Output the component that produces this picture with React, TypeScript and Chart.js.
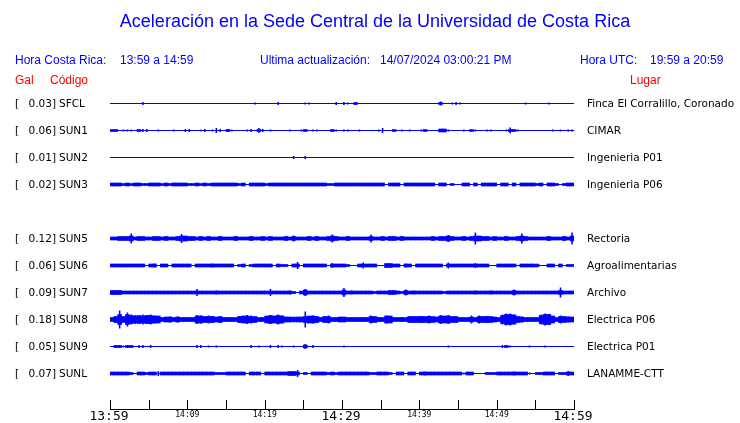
import { useEffect, useRef } from 'react';
import { Chart, registerables } from 'chart.js';

Chart.register(...registerables);

const TITLE = 'Aceleración en la Sede Central de la Universidad de Costa Rica';
const HORA_CR_LABEL = 'Hora Costa Rica:';
const HORA_CR = '13:59 a 14:59';
const UPDATED_LABEL = 'Ultima actualización:';
const UPDATED = '14/07/2024 03:00:21 PM';
const HORA_UTC_LABEL = 'Hora UTC:';
const HORA_UTC = '19:59 a 20:59';
const COL_GAL = 'Gal';
const COL_CODE = 'Código';
const COL_PLACE = 'Lugar';

// Station rows (empty row = unused slot)
const CODES = ['SFCL', 'SUN1', 'SUN2', 'SUN3', '', 'SUN5', 'SUN6', 'SUN7', 'SUN8', 'SUN9', 'SUNL'];
const GAL = ['0.03', '0.06', '0.01', '0.02', '', '0.12', '0.06', '0.09', '0.18', '0.05', '0.07'];
const PLACES = [
  'Finca El Corralillo, Coronado', 'CIMAR', 'Ingenieria P01', 'Ingenieria P06', '',
  'Rectoria', 'Agroalimentarias', 'Archivo', 'Electrica P06', 'Electrica P01', 'LANAMME-CTT',
];

// time axis (minutes from 13:59)
const SPAN_MINUTES = 60;
const BIN_MINUTES = 0.5;
const TICK_MINUTES = [0, 5, 10, 15, 20, 25, 30, 35, 40, 45, 50, 55, 60];
const LABEL_MINUTES = [0, 10, 20, 30, 40, 50, 60];
const TIME_LABELS = ['13:59', '14:09', '14:19', '14:29', '14:39', '14:49', '14:59'];
const MAJOR_LABELS = ['13:59', '14:29', '14:59'];

// Envelopes: one char per 30 s bin (base-36, half-amplitude units)
const SFCL_BAND = '0000000000 0000000000 0000000000 0000000000 0000000000 0000000000 0002000000 0000000000 0000020000 0000000000 0000000000 0000000000';
const SFCL_SPIKE = '0000000030 0000000000 0000000000 0000000200 0003000000 2200000030 3202000000 0000000000 0000040023 2000000000 0000000200 0002000000';
const SUN1_BAND = '2200000200 0000000000 0000000000 2000000020 0000000000 2000000200 0000000000 0002000000 0200033000 0002000000 0002200000 0000000000';
const SUN1_SPIKE = '0002220033 0020002003 3002302530 3200023053 0200002002 2022000020 2200200002 5000020200 2000000200 0200200220 0026020000 0000202022';
const SUN2_BAND = '0000000000 0000000000 0000000000 0000000000 0000000000 0000000000 0000000000 0000000000 0000000000 0000000000 0000000000 0000000000';
const SUN2_SPIKE = '0000000000 0000000000 0000000000 0000000000 0000000300 3000000000 0000000000 0000000000 0000000000 0000000000 0000000000 0000000000';
const SUN3_BAND = '3332323322 3332323333 2232323333 3332303333 2333333333 3333332233 3333333333 3033303333 3333033020 0330303333 0330303333 2303320233';
const SUN3_SPIKE = '0000000000 0000000000 0000000000 0000000000 0000000000 0000000000 0000000000 0000000000 0000000000 0000000000 0000000000 0000000000';
const SUN5_BAND = '3344453443 3443433455 4434343343 3343334334 3433343433 3434334543 3433333433 4344343333 3334344543 3434554434 3343345433 3334333435';
const SUN5_SPIKE = '00000a0000 0000000090 0000000000 0000000000 0000000600 0000000800 0000000800 0000000000 0000000700 0000c00000 000000a000 000000000c';
const SUN6_BAND = '3333333330 3303303333 3033333333 3302302333 3303220330 3333330333 3200333330 0443303303 3333330333 3333333300 3333303333 2003303022';
const SUN6_SPIKE = '0000000000 0400000000 0000004000 0000000000 0000000070 0000000500 0000060000 0000004000 0000000600 0000500000 0000000000 4000000000';
const SUN7_BAND = '4443333333 3333333333 3333333333 3333333333 3333333203 5333333333 5333333323 3344324333 3333332333 3333333333 3333433333 3333334333';
const SUN7_SPIKE = '0440000003 3000303000 0070000400 3303003000 0700004000 7030303000 9040300300 3000006040 3000300003 0000400040 0000600000 030000a003';
const SUN8_BAND = '46a6a87878 8774554544 4477666564 4446776644 7878755455 6776466445 5444444664 4774444666 6666577766 4445466665 48aa965444 48aa746655';
const SUN8_SPIKE = '06i0ea90a9 a800060600 0098087000 0007098000 090a800600 g080008000 0000000805 0800050600 7080090900 0008080700 0acca06000 0acb008060';
const SUN9_BAND = '0220220000 0000000000 0000000000 0000000000 0000000000 3000000000 0000000000 0000000000 0000000000 0000000000 0020000000 0000000000';
const SUN9_SPIKE = '0332300330 3000000000 0033020200 0000003020 0303200200 5030000000 2000000000 0000000000 0000000200 0000000000 0332000020 0020000000';
const SUNL_BAND = '3333320332 3303333333 3333333222 3333303330 3333334430 2033332323 3333333223 3320330330 3333333333 3033000222 3333333300 2233302233';
const SUNL_SPIKE = '0000000000 0050000000 0000000000 0000000000 0000000070 0000000000 0000000000 0000000000 0400000000 0200000000 0000400020 0000000050';

const BANDS = [SFCL_BAND, SUN1_BAND, SUN2_BAND, SUN3_BAND, '', SUN5_BAND, SUN6_BAND, SUN7_BAND, SUN8_BAND, SUN9_BAND, SUNL_BAND];
const SPIKES = [SFCL_SPIKE, SUN1_SPIKE, SUN2_SPIKE, SUN3_SPIKE, '', SUN5_SPIKE, SUN6_SPIKE, SUN7_SPIKE, SUN8_SPIKE, SUN9_SPIKE, SUNL_SPIKE];

const UNITS_PER_ROW = 54;
const BLUE = '#0000ff';
const RED = '#ff0000';

const parseEnv = (s: string) => s.replace(/\s/g, '').split('').map((c) => parseInt(c, 36));

const toBars = (s: string, row: number) =>
  parseEnv(s)
    .map((v, i) => ({ v, i }))
    .filter((d) => d.v > 0)
    .map((d) => ({
      x: (d.i + 0.5) * BIN_MINUTES,
      y: [row - d.v / UNITS_PER_ROW, row + d.v / UNITS_PER_ROW],
    }));

const textPlugin = {
  id: 'seismoText',
  afterDraw(chart: any) {
    const ctx = chart.ctx;
    const xs = chart.scales.x;
    const ys = chart.scales.y;
    ctx.save();
    ctx.textBaseline = 'middle';

    ctx.fillStyle = BLUE;
    ctx.textAlign = 'center';
    ctx.font = "18px 'Liberation Sans'";
    ctx.fillText(TITLE, chart.width / 2 + 5, 22);

    ctx.textAlign = 'left';
    ctx.font = "12px 'Liberation Sans'";
    ctx.fillText(HORA_CR_LABEL, 15, 61);
    ctx.fillText(HORA_CR, 120, 61);
    ctx.fillText(UPDATED_LABEL, 260, 61);
    ctx.fillText(UPDATED, 380, 61);
    ctx.fillText(HORA_UTC_LABEL, 580, 61);
    ctx.fillText(HORA_UTC, 650, 61);

    ctx.fillStyle = RED;
    ctx.fillText(COL_GAL, 15, 81);
    ctx.fillText(COL_CODE, 50, 81);
    ctx.fillText(COL_PLACE, 630, 81);

    ctx.fillStyle = '#000000';
    ctx.font = "10.5px 'DejaVu Sans'";
    CODES.forEach((code, r) => {
      if (!code) return;
      const y = ys.getPixelForValue(r) + 1;
      ctx.textAlign = 'left';
      ctx.fillText('[', 15, y);
      ctx.textAlign = 'right';
      ctx.fillText(GAL[r] + ']', 56, y);
      ctx.textAlign = 'left';
      ctx.fillText(code, 59, y);
      ctx.fillText(PLACES[r], 587, y);
    });

    // time axis
    const axisY = 409.5;
    ctx.strokeStyle = '#000000';
    ctx.lineWidth = 1;
    ctx.beginPath();
    ctx.moveTo(Math.round(xs.getPixelForValue(0)), axisY);
    ctx.lineTo(Math.round(xs.getPixelForValue(SPAN_MINUTES)) + 1, axisY);
    TICK_MINUTES.forEach((m) => {
      const px = Math.round(xs.getPixelForValue(m)) + 0.5;
      ctx.moveTo(px, 400);
      ctx.lineTo(px, axisY);
    });
    ctx.stroke();

    ctx.textAlign = 'center';
    LABEL_MINUTES.forEach((m, i) => {
      const lbl = TIME_LABELS[i];
      const px = xs.getPixelForValue(m);
      if (MAJOR_LABELS.includes(lbl)) {
        ctx.font = "13px 'DejaVu Sans Mono'";
        ctx.fillText(lbl, px - 1, 417);
      } else {
        ctx.font = "8px 'DejaVu Sans Mono'";
        ctx.fillText(lbl, px, 414.5);
      }
    });
    ctx.restore();
  },
};

export default function App() {
  const ref = useRef<HTMLCanvasElement | null>(null);

  useEffect(() => {
    if (!ref.current) return;
    const datasets: any[] = [];
    CODES.forEach((code, r) => {
      if (!code) return;
      datasets.push({
        type: 'line',
        data: [{ x: 0, y: r }, { x: SPAN_MINUTES, y: r }],
        borderColor: BLUE,
        borderWidth: 1,
        pointRadius: 0,
      });
      datasets.push({
        type: 'bar',
        data: toBars(BANDS[r], r),
        backgroundColor: BLUE,
        borderWidth: 0,
        grouped: false,
        barPercentage: 1,
        categoryPercentage: 1,
      });
      datasets.push({
        type: 'bar',
        data: toBars(SPIKES[r], r),
        backgroundColor: BLUE,
        borderWidth: 0,
        grouped: false,
        barPercentage: 0.4,
        categoryPercentage: 1,
      });
    });

    const chart = new Chart(ref.current, {
      type: 'bar',
      data: { datasets },
      options: {
        animation: false,
        responsive: false,
        devicePixelRatio: 1,
        events: [],
        layout: { padding: { left: 110, right: 166, top: 90, bottom: 36 } },
        plugins: { legend: { display: false }, tooltip: { enabled: false }, title: { display: false } },
        scales: {
          x: { type: 'linear', min: 0, max: SPAN_MINUTES, offset: false, display: false },
          y: { type: 'linear', min: -0.5, max: CODES.length - 0.5, reverse: true, display: false },
        },
      },
      plugins: [textPlugin],
    } as any);
    return () => chart.destroy();
  }, []);

  return (
    <div style={{ position: 'absolute', left: 0, top: 0, width: 740, height: 423, background: '#ffffff' }}>
      <canvas ref={ref} width={740} height={423} style={{ display: 'block' }} />
    </div>
  );
}
